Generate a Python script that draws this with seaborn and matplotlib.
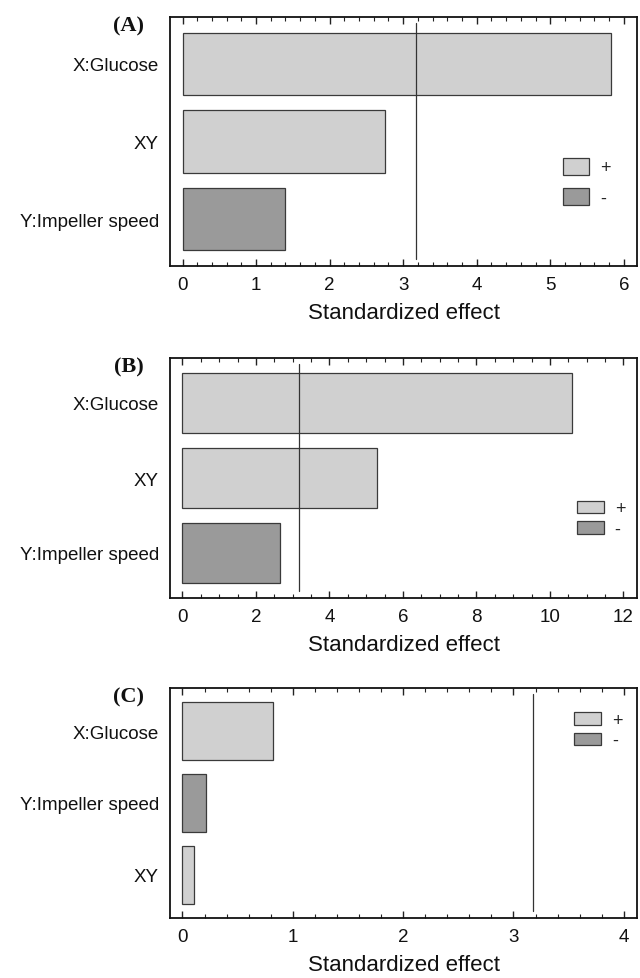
import matplotlib
matplotlib.use("Agg")
import matplotlib.pyplot as plt
import matplotlib.ticker as mticker
from matplotlib.patches import Patch
import seaborn as sns
import pandas as pd

# ---- data ----
cats_a = ["X:Glucose", "XY", "Y:Impeller speed"]
effects_a = [5.83, 2.75, 1.40]
signs_a = ["+", "+", "-"]

cats_b = ["X:Glucose", "XY", "Y:Impeller speed"]
effects_b = [10.6, 5.3, 2.65]
signs_b = ["+", "+", "-"]

cats_c = ["X:Glucose", "Y:Impeller speed", "XY"]
effects_c = [0.82, 0.21, 0.105]
signs_c = ["+", "-", "+"]

critical = 3.18
panel_labels = ["(A)", "(B)", "(C)"]
xlabel = "Standardized effect"

sns.set_theme(style="white")
plt.rcParams["font.family"] = ["Liberation Sans", "DejaVu Sans"]

LIGHT = "#d0d0d0"
DARK = "#9a9a9a"
EDGE = "#3a3a3a"
palette = {"+": LIGHT, "-": DARK}

fig = plt.figure(figsize=(6.4, 9.79), dpi=100)

W, H = 640, 979
def axes_rect(left, right, top, bottom):
    return [left / W, 1 - bottom / H, (right - left) / W, (bottom - top) / H]

specs = [
    dict(cats=cats_a, eff=effects_a, sg=signs_a, rect=axes_rect(170, 637, 18, 267),
         xlim=(-0.17, 6.18), major=1, minor=0.2,
         leg_anchor=(0.842, 0.435), hl=1.45, hh=1.1, ls=0.62, lab_y=26),
    dict(cats=cats_b, eff=effects_b, sg=signs_b, rect=axes_rect(170, 637, 359, 599),
         xlim=(-0.34, 12.37), major=2, minor=0.5,
         leg_anchor=(0.871, 0.407), hl=1.5, hh=0.72, ls=0.2, lab_y=367),
    dict(cats=cats_c, eff=effects_c, sg=signs_c, rect=axes_rect(170, 637, 689, 919),
         xlim=(-0.113, 4.12), major=1, minor=0.2,
         leg_anchor=(0.865, 0.897), hl=1.5, hh=0.72, ls=0.2, lab_y=697),
]

for i, s in enumerate(specs):
    ax = fig.add_axes(s["rect"])
    df = pd.DataFrame({"term": s["cats"], "effect": s["eff"], "sign": s["sg"]})
    sns.barplot(data=df, x="effect", y="term", hue="sign", palette=palette,
                dodge=False, width=0.8, edgecolor=EDGE, linewidth=0.9,
                legend=False, ax=ax, order=s["cats"], hue_order=["+", "-"])
    ax.axvline(critical, ymin=0.03, ymax=0.975, color="#333333", lw=0.9)
    ax.set_xlim(*s["xlim"])
    ax.set_ylim(2.6, -0.6)
    ax.xaxis.set_major_locator(mticker.MultipleLocator(s["major"]))
    ax.xaxis.set_minor_locator(mticker.MultipleLocator(s["minor"]))
    ax.xaxis.set_major_formatter(mticker.FormatStrFormatter("%g"))
    ax.tick_params(axis="x", which="both", direction="in", top=True, bottom=True,
                   colors="#222222", labelcolor="#111111", labelsize=13.5, pad=7)
    ax.tick_params(axis="x", which="major", length=5, width=1.0)
    ax.tick_params(axis="x", which="minor", length=3, width=0.8)
    ax.tick_params(axis="y", which="both", length=0, labelsize=13.5, pad=8,
                   labelcolor="#111111")
    for sp in ax.spines.values():
        sp.set_visible(True)
        sp.set_color("#111111")
        sp.set_linewidth(1.3)
    ax.set_ylabel("")
    ax.set_xlabel(xlabel, fontsize=16, color="#111111", labelpad=7)

    handles = [Patch(facecolor=LIGHT, edgecolor=EDGE, linewidth=0.9, label="+"),
               Patch(facecolor=DARK, edgecolor=EDGE, linewidth=0.9, label="-")]
    ax.legend(handles=handles, loc="upper left", bbox_to_anchor=s["leg_anchor"],
              frameon=False, fontsize=13, handlelength=s["hl"], handleheight=s["hh"],
              labelspacing=s["ls"], handletextpad=0.6, borderpad=0, borderaxespad=0)

    fig.text(129 / W, 1 - s["lab_y"] / H, panel_labels[i], ha="center", va="center",
             fontsize=16, fontweight="bold", family=["Liberation Serif", "DejaVu Serif"],
             color="#111111")

fig.savefig("out.png", dpi=100)
